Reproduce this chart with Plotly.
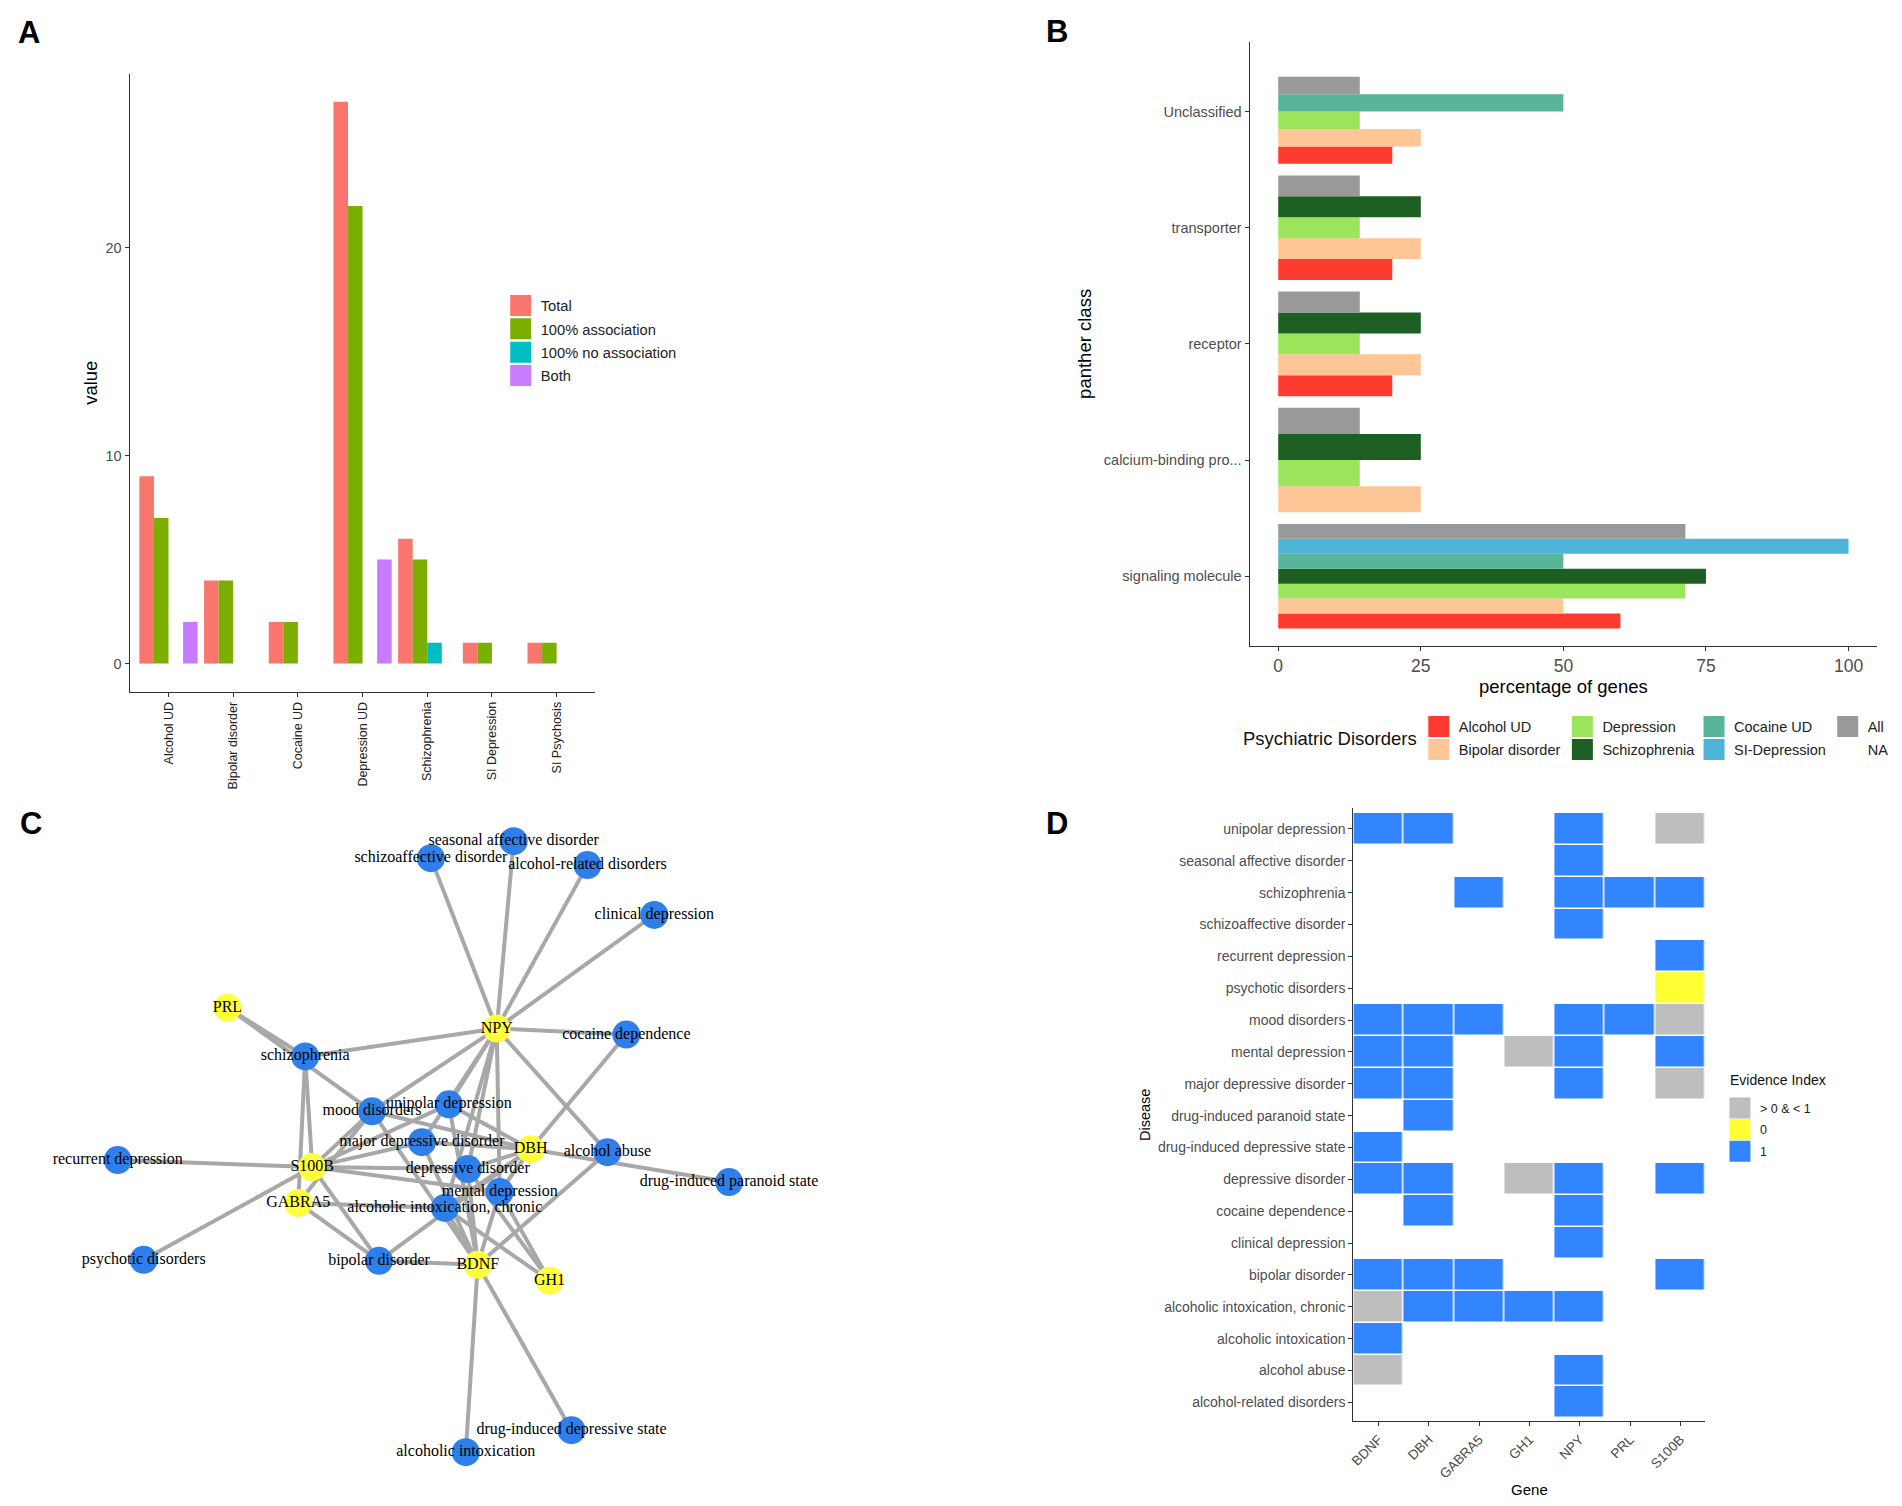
import plotly.graph_objects as go

# page body has an 8px margin: the figure is sized so that it fills the 1902x1506 window
OFF = 8
W, H = 1902 - 2 * OFF, 1506 - 2 * OFF
FONT = "Liberation Sans"
SERIF = "Liberation Serif"

# ---------------- Panel A data ----------------
a_categories = ["Alcohol UD", "Bipolar disorder", "Cocaine UD", "Depression UD",
                "Schizophrenia", "SI Depression", "SI Psychosis"]
a_series = ["Total", "100% association", "100% no association", "Both"]
a_total = [9, 4, 2, 27, 6, 1, 1]
a_assoc = [7, 4, 2, 22, 5, 1, 1]
a_noassoc = [0, 0, 0, 0, 1, 0, 0]
a_both = [2, 0, 0, 5, 0, 0, 0]
a_yticks = [0, 10, 20]

# ---------------- Panel B data ----------------
b_classes = ["signaling molecule", "calcium-binding pro...", "receptor",
             "transporter", "Unclassified"]          # bottom -> top
b_series = ["Alcohol UD", "Bipolar disorder", "Depression", "Schizophrenia",
            "Cocaine UD", "SI-Depression", "All", "NA"]
b_alcohol = [60, None, 20, 20, 20]
b_bipolar = [50, 25, 25, 25, 25]
b_depression = [71.4, 14.3, 14.3, 14.3, 14.3]
b_schizophrenia = [75, 25, 25, 25, None]
b_cocaine = [50, None, None, None, 50]
b_sidepression = [100, None, None, None, None]
b_all = [71.4, 14.3, 14.3, 14.3, 14.3]
b_na = [None, None, None, None, 14.3]
b_xticks = [0, 25, 50, 75, 100]

# ---------------- Panel D data ----------------
d_genes = ["BDNF", "DBH", "GABRA5", "GH1", "NPY", "PRL", "S100B"]
d_diseases = ["unipolar depression", "seasonal affective disorder", "schizophrenia",
              "schizoaffective disorder", "recurrent depression", "psychotic disorders",
              "mood disorders", "mental depression", "major depressive disorder",
              "drug-induced paranoid state", "drug-induced depressive state",
              "depressive disorder", "cocaine dependence", "clinical depression",
              "bipolar disorder", "alcoholic intoxication, chronic",
              "alcoholic intoxication", "alcohol abuse", "alcohol-related disorders"]
G = 0.5  # evidence index between 0 and 1
d_evidence = [
    [1, 1, None, None, 1, None, G],
    [None, None, None, None, 1, None, None],
    [None, None, 1, None, 1, 1, 1],
    [None, None, None, None, 1, None, None],
    [None, None, None, None, None, None, 1],
    [None, None, None, None, None, None, 0],
    [1, 1, 1, None, 1, 1, G],
    [1, 1, None, G, 1, None, 1],
    [1, 1, None, None, 1, None, G],
    [None, 1, None, None, None, None, None],
    [1, None, None, None, None, None, None],
    [1, 1, None, G, 1, None, 1],
    [None, 1, None, None, 1, None, None],
    [None, None, None, None, 1, None, None],
    [1, 1, 1, None, None, None, 1],
    [G, 1, 1, 1, 1, None, None],
    [1, None, None, None, None, None, None],
    [G, None, None, None, 1, None, None],
    [None, None, None, None, 1, None, None],
]
d_legend_labels = ["> 0 & < 1", "0", "1"]

# ---------------- Panel C network layout (node layout coordinates) ----------------
c_gene_x = [475, 528, 295, 547, 494, 224, 309]
c_gene_y = [1269, 1153, 1207, 1285, 1032, 1011, 1171]
c_disease_x = [446, 511, 302, 428, 114, 140, 369, 497, 419, 727, 569, 465, 624, 652,
               376, 442, 463, 605, 585]
c_disease_y = [1108, 844, 1060, 861, 1164, 1264, 1115, 1196, 1146, 1186, 1435, 1173,
               1038, 918, 1265, 1212, 1457, 1156, 868]

# ---------------- styles ----------------
a_colors = ["#F8766D", "#7CAE00", "#00BFC4", "#C77CFF"]
b_colors = ["#FF3B2F", "#FEC596", "#9DE45D", "#1D5E23", "#58B59A", "#4DB3D7",
            "#999999", "rgba(0,0,0,0)"]
d_colors = ["#BEBEBE", "#FFFF33", "#3385FF"]
NODE_BLUE = "#2F7FEA"
NODE_YELLOW = "#FFFF3C"
EDGE = "#A8A8A8"
AX = "#333333"
TICK = "#4D4D4D"


def px(x):
    return (x - OFF) / W


def py(y):
    return 1 - (y - OFF) / H


fig = go.Figure()

# ---------------- Panel A bars ----------------
a_values = [a_total, a_assoc, a_noassoc, a_both]
nA = len(a_series)
wA = 0.9 / nA
for i, (name, vals, col) in enumerate(zip(a_series, a_values, a_colors)):
    fig.add_trace(go.Bar(x=a_categories, y=vals, width=wA, offset=-0.45 + i * wA,
                         marker=dict(color=col, line=dict(width=0)), showlegend=False,
                         xaxis="x", yaxis="y", hoverinfo="skip"))
    fig.add_trace(go.Scatter(x=[None], y=[None], mode="markers", name=name,
                             marker=dict(symbol="square", size=16, color=col,
                                         line=dict(color=col, width=5)),
                             legend="legend", legendgroup="a" + str(i),
                             xaxis="x", yaxis="y", hoverinfo="skip"))

# ---------------- Panel B bars (dodged per class) ----------------
b_values = [b_alcohol, b_bipolar, b_depression, b_schizophrenia, b_cocaine,
            b_sidepression, b_all, b_na]
present = [[s for s in range(len(b_series)) if b_values[s][j] is not None]
           for j in range(len(b_classes))]
for s, (name, vals, col) in enumerate(zip(b_series, b_values, b_colors)):
    xs, ys, ws, offs = [], [], [], []
    for j, v in enumerate(vals):
        if v is None:
            continue
        n = len(present[j])
        k = present[j].index(s)
        w = 0.9 / n
        xs.append(v)
        ys.append(b_classes[j])
        ws.append(w)
        offs.append(-0.45 + k * w)
    fig.add_trace(go.Bar(x=xs, y=ys, orientation="h", width=ws, offset=offs,
                         marker=dict(color=col, line=dict(width=0)), showlegend=False,
                         xaxis="x2", yaxis="y2", hoverinfo="skip"))
b_legend_of = ["legend2", "legend2", "legend3", "legend3", "legend4", "legend4",
               "legend5", "legend5"]
for s, (name, col) in enumerate(zip(b_series, b_colors)):
    fig.add_trace(go.Scatter(x=[None], y=[None], mode="markers", name=name,
                             marker=dict(symbol="square", size=16, color=col,
                                         line=dict(color=col, width=5)),
                             legend=b_legend_of[s], legendgroup="b" + str(s),
                             xaxis="x2", yaxis="y2", hoverinfo="skip"))

# ---------------- Panel C network ----------------
ex, ey = [], []
for r, row in enumerate(d_evidence):
    for g, v in enumerate(row):
        if v is not None:
            ex += [c_gene_x[g], c_disease_x[r], None]
            ey += [c_gene_y[g], c_disease_y[r], None]
fig.add_trace(go.Scatter(x=ex, y=ey, mode="lines", line=dict(color=EDGE, width=4),
                         showlegend=False, xaxis="x3", yaxis="y3", hoverinfo="skip"))
fig.add_trace(go.Scatter(x=c_disease_x, y=c_disease_y, mode="markers",
                         marker=dict(size=28, color=NODE_BLUE, line=dict(width=0)),
                         showlegend=False, xaxis="x3", yaxis="y3", hoverinfo="skip"))
fig.add_trace(go.Scatter(x=c_gene_x, y=c_gene_y, mode="markers",
                         marker=dict(size=28, color=NODE_YELLOW, line=dict(width=0)),
                         showlegend=False, xaxis="x3", yaxis="y3", hoverinfo="skip"))
fig.add_trace(go.Scatter(x=c_disease_x + c_gene_x, y=c_disease_y + c_gene_y, mode="text",
                         text=d_diseases + d_genes, textposition="middle center",
                         textfont=dict(family=SERIF, size=16, color="#000000"),
                         showlegend=False, xaxis="x3", yaxis="y3", hoverinfo="skip"))

# ---------------- Panel D heatmap ----------------
def code(v):
    if v is None:
        return None
    if v == 0:
        return 2
    if v >= 1:
        return 3
    return 1


z = [[code(v) for v in row] for row in d_evidence]
fig.add_trace(go.Heatmap(x=d_genes, y=d_diseases, z=z, zmin=0.5, zmax=3.5,
                         colorscale=[[0, d_colors[0]], [1 / 3, d_colors[0]],
                                     [1 / 3, d_colors[1]], [2 / 3, d_colors[1]],
                                     [2 / 3, d_colors[2]], [1, d_colors[2]]],
                         showscale=False, xgap=1.5, ygap=1.5, hoverinfo="skip",
                         xaxis="x4", yaxis="y4"))
for lab, col in zip(d_legend_labels, d_colors):
    fig.add_trace(go.Scatter(x=[None], y=[None], mode="markers", name=lab,
                             marker=dict(symbol="square", size=16, color=col,
                                         line=dict(color=col, width=5)),
                             legend="legend6", legendgroup="d" + lab,
                             xaxis="x4", yaxis="y4", hoverinfo="skip"))

# ---------------- layout ----------------
axis_common = dict(showline=True, linecolor=AX, linewidth=1.3, ticks="outside",
                   ticklen=4, tickcolor=AX, tickwidth=1.1, showgrid=False,
                   zeroline=False, fixedrange=True)

legend_common = dict(xanchor="left", yanchor="top", bgcolor="rgba(0,0,0,0)",
                     borderwidth=0, itemclick=False, itemdoubleclick=False,
                     orientation="v")

fig.update_layout(
    width=W, height=H, margin=dict(l=0, r=0, t=0, b=0),
    paper_bgcolor="white", plot_bgcolor="white", barmode="overlay",
    font=dict(family=FONT, color="#222222"),
    xaxis=dict(domain=[px(126), px(593)], anchor="y", type="category",
               range=[-0.6, len(a_categories) - 0.4], tickangle=-90,
               tickfont=dict(size=12.5, color="#222222"), **axis_common),
    yaxis=dict(domain=[py(694), py(74)], anchor="x", range=[-1.35, 28.35],
               tickvals=a_yticks, tickfont=dict(size=14.5, color=TICK),
               title=dict(text="value", font=dict(size=18.5, color="#000"), standoff=3),
               **axis_common),
    xaxis2=dict(domain=[px(1249), px(1878)], anchor="y2", range=[-5, 105],
                tickvals=b_xticks, tickfont=dict(size=17.5, color=TICK),
                title=dict(text="percentage of genes", font=dict(size=18.5, color="#000"),
                           standoff=4), **axis_common),
    yaxis2=dict(domain=[py(648), py(42)], anchor="x2", type="category",
                categoryorder="array", categoryarray=b_classes,
                range=[-0.6, len(b_classes) - 0.4], tickfont=dict(size=14.5, color=TICK),
                title=dict(text="panther class", font=dict(size=18.5, color="#000"),
                           standoff=7), **axis_common),
    xaxis3=dict(domain=[px(OFF), px(856)], anchor="y3", range=[OFF, 856], visible=False,
                fixedrange=True),
    yaxis3=dict(domain=[py(1506 - OFF), py(800)], anchor="x3", range=[1506 - OFF, 800],
                visible=False, fixedrange=True),
    xaxis4=dict(domain=[px(1353), px(1706)], anchor="y4", type="category",
                categoryorder="array", categoryarray=d_genes,
                range=[-0.5, len(d_genes) - 0.5], tickangle=-45,
                tickfont=dict(size=13.5, color=TICK),
                title=dict(text="Gene", font=dict(size=15, color="#000"), standoff=6),
                **axis_common),
    yaxis4=dict(domain=[py(1426), py(811)], anchor="x4", type="category",
                categoryorder="array", categoryarray=d_diseases,
                range=[len(d_diseases) - 0.5 + 0.094, -0.647],
                tickfont=dict(size=14, color=TICK),
                title=dict(text="Disease", font=dict(size=14.5, color="#000"), standoff=3),
                **axis_common),
    legend=dict(x=px(498), y=py(290.4), font=dict(size=14.7, color="#222"),
                tracegroupgap=1.2, **legend_common),
    legend2=dict(x=px(1418.5), y=py(712.9), font=dict(size=14.5, color="#222"),
                 tracegroupgap=1.1, **legend_common),
    legend3=dict(x=px(1562.5), y=py(712.9), font=dict(size=14.5, color="#222"),
                 tracegroupgap=1.1, **legend_common),
    legend4=dict(x=px(1694.5), y=py(712.9), font=dict(size=14.5, color="#222"),
                 tracegroupgap=1.1, **legend_common),
    legend5=dict(x=px(1828.5), y=py(712.9), font=dict(size=14.5, color="#222"),
                 tracegroupgap=1.1, **legend_common),
    legend6=dict(x=px(1720.5), y=py(1097), font=dict(size=12.5, color="#222"),
                 tracegroupgap=2.4, **legend_common),
)

annotations = [
    dict(text="<b>A</b>", x=px(25.5), y=py(32.5)),
    dict(text="<b>B</b>", x=px(1055.5), y=py(32)),
    dict(text="<b>C</b>", x=px(27), y=py(826.5)),
    dict(text="<b>D</b>", x=px(1056), y=py(826.5)),
]
for a in annotations:
    fig.add_annotation(xref="paper", yref="paper", showarrow=False, xanchor="center",
                       yanchor="middle", font=dict(size=31, color="#000", family=FONT), **a)
fig.add_annotation(text="Psychiatric Disorders", xref="paper", yref="paper",
                   x=px(1330), y=py(741), showarrow=False, xanchor="center",
                   yanchor="middle", font=dict(size=18.5, color="#111"))
fig.add_annotation(text="Evidence Index", xref="paper", yref="paper",
                   x=px(1729), y=py(1084), showarrow=False, xanchor="left",
                   yanchor="middle", font=dict(size=14, color="#111"))

fig.write_html("out.html")
